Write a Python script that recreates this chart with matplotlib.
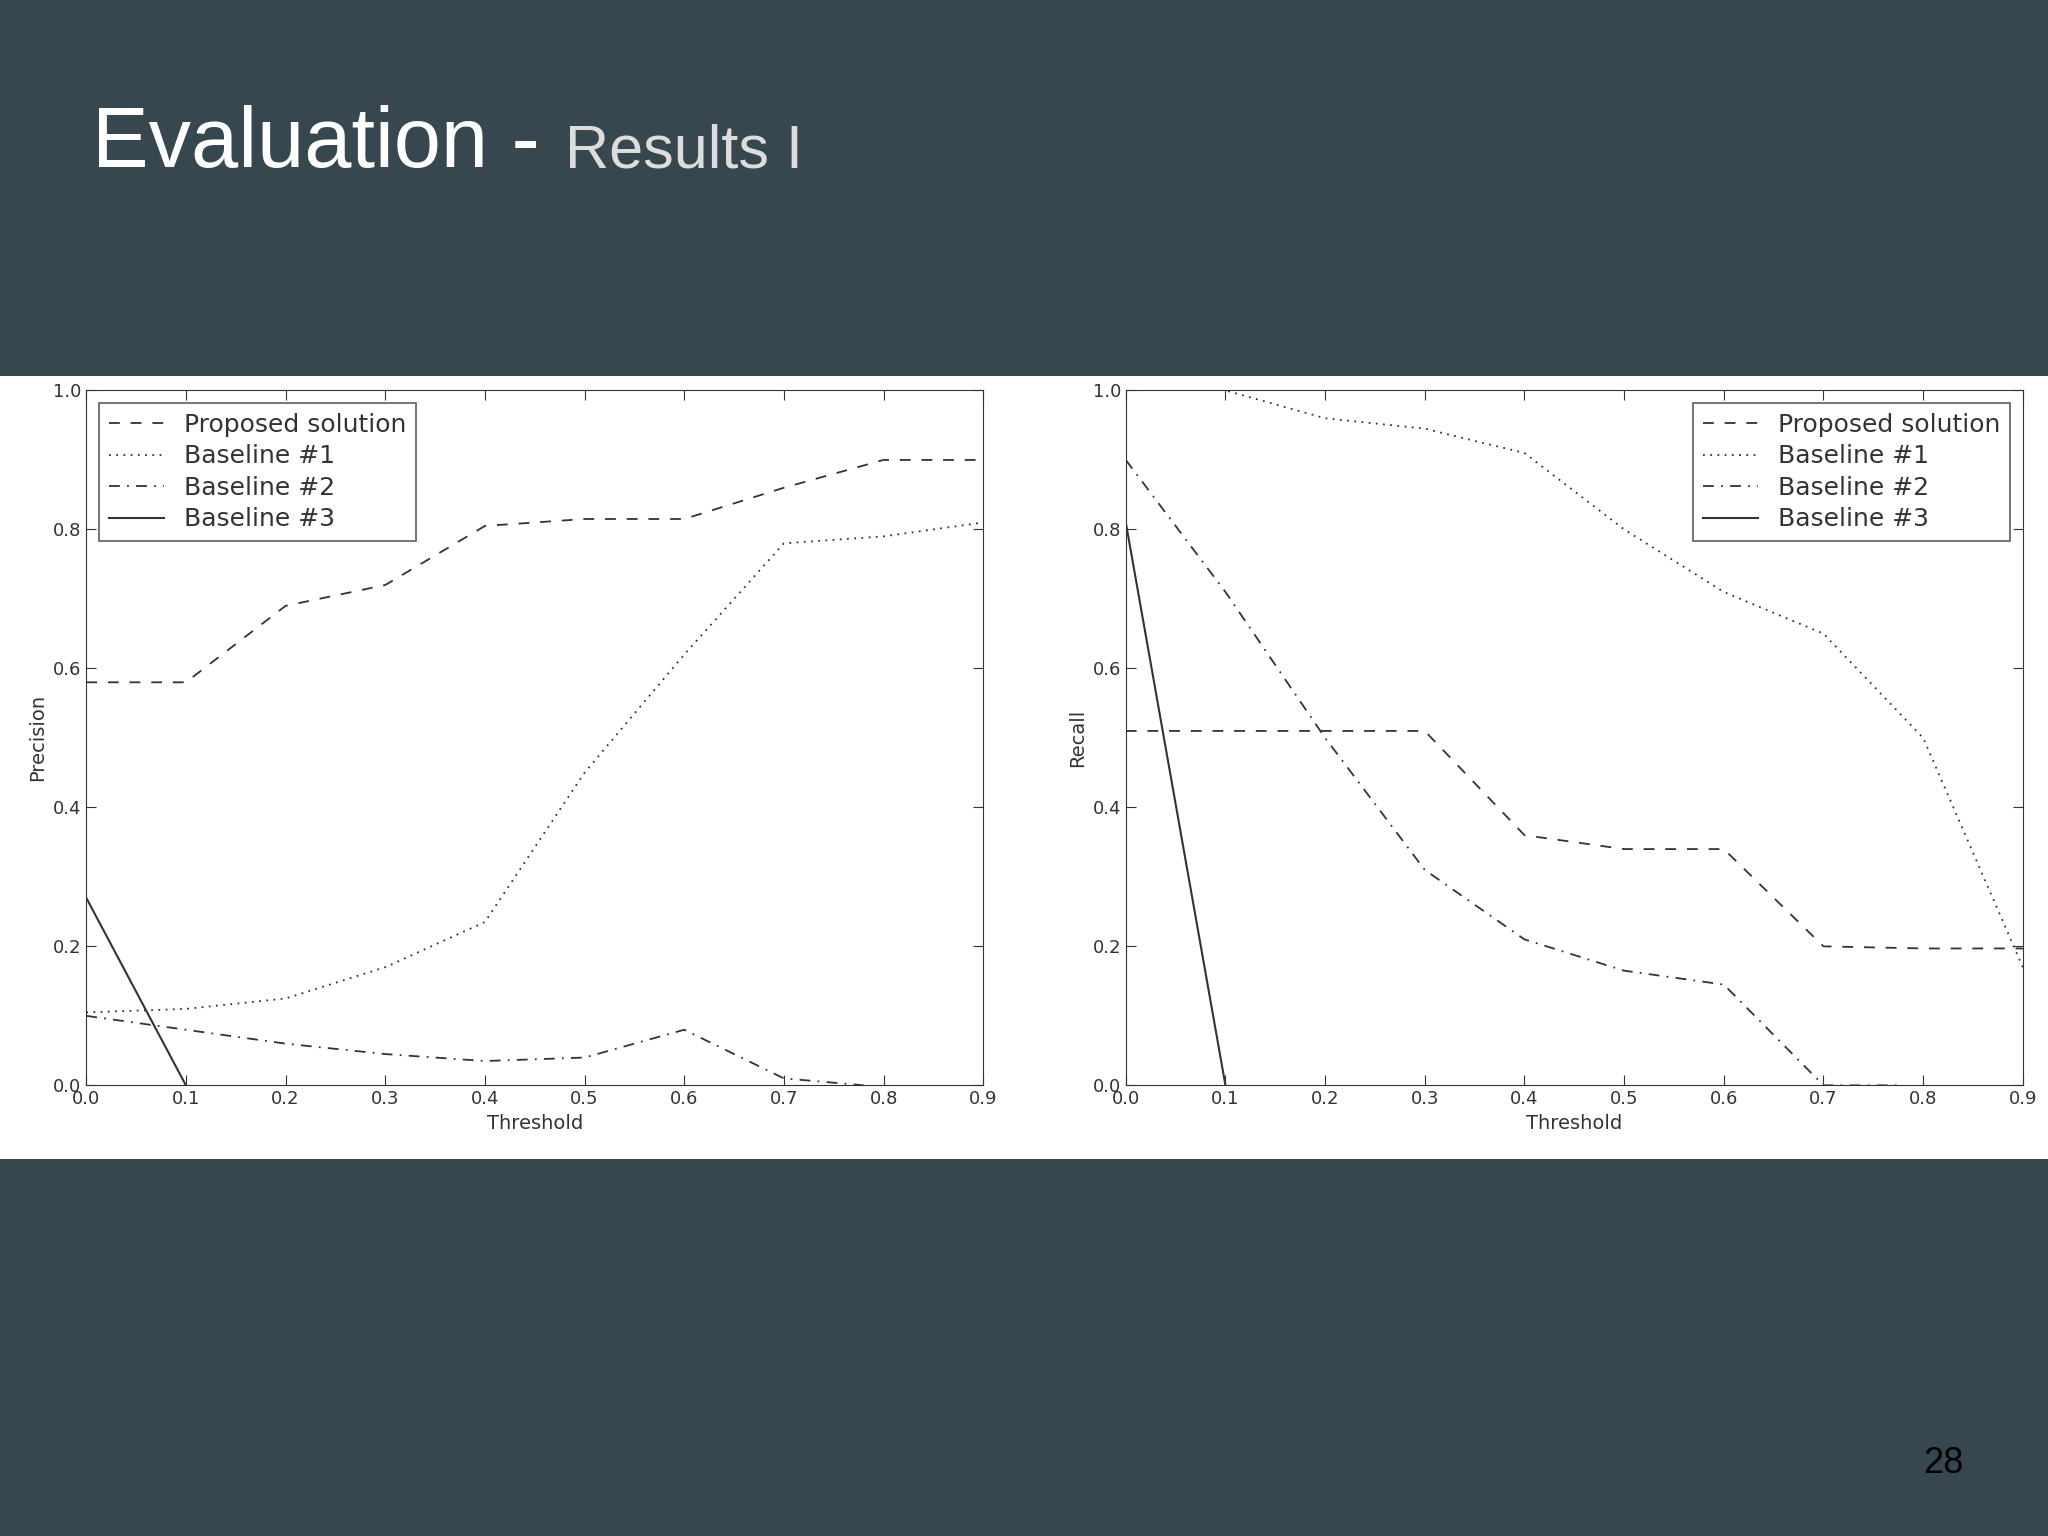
import matplotlib
matplotlib.use("Agg")
import matplotlib.pyplot as plt
from matplotlib.patches import Rectangle

thresholds = [0.0, 0.1, 0.2, 0.3, 0.4, 0.5, 0.6, 0.7, 0.8, 0.9]
prec_proposed = [0.58, 0.58, 0.69, 0.72, 0.805, 0.815, 0.815, 0.86, 0.90, 0.90]
prec_b1 = [0.105, 0.11, 0.125, 0.17, 0.235, 0.45, 0.62, 0.78, 0.79, 0.81]
prec_b2_x = [0.0, 0.1, 0.2, 0.3, 0.4, 0.5, 0.6, 0.7, 0.78]
prec_b2 = [0.10, 0.08, 0.06, 0.045, 0.035, 0.04, 0.08, 0.01, 0.0]
prec_b3_x = [0.0, 0.1]
prec_b3 = [0.27, 0.0]

rec_proposed = [0.51, 0.51, 0.51, 0.51, 0.36, 0.34, 0.34, 0.20, 0.197, 0.197]
rec_b1 = [1.05, 1.0, 0.96, 0.945, 0.91, 0.80, 0.71, 0.65, 0.50, 0.17]
rec_b2_x = [0.0, 0.1, 0.2, 0.3, 0.4, 0.5, 0.6, 0.7, 0.78]
rec_b2 = [0.90, 0.71, 0.50, 0.31, 0.21, 0.165, 0.145, 0.0, 0.0]
rec_b3_x = [0.0, 0.1]
rec_b3 = [0.81, 0.0]

labels = ["Proposed solution", "Baseline #1", "Baseline #2", "Baseline #3"]
xticks = [0.0, 0.1, 0.2, 0.3, 0.4, 0.5, 0.6, 0.7, 0.8, 0.9]
yticks = [0.0, 0.2, 0.4, 0.6, 0.8, 1.0]

BG = "#37474f"
LC = "#333333"
fig = plt.figure(figsize=(20.48, 15.36), dpi=100, facecolor=BG)
fig.patches.append(Rectangle((0, 0.2457), 1, 0.5093, transform=fig.transFigure,
                             facecolor="white", edgecolor="none", zorder=-10))
fig.text(0.045, 0.891, "Evaluation - ", color="white", fontsize=61,
         family="Liberation Sans", va="baseline")
fig.text(0.276, 0.891, "Results I", color="#dddddd", fontsize=44,
         family="Liberation Sans", va="baseline")
fig.text(0.949, 0.041, "28", color="black", fontsize=26,
         family="Liberation Sans", va="baseline", ha="center")

def make(ax, data, ylabel, loc):
    (p, b1, b2x, b2, b3x, b3) = data
    ax.plot(thresholds, p, ls=(0, (6, 6)), color=LC, lw=1.3, label=labels[0])
    ax.plot(thresholds, b1, ls=(0, (1, 3)), color=LC, lw=1.3, label=labels[1])
    ax.plot(b2x, b2, ls=(0, (6, 4, 1, 4)), color=LC, lw=1.3, label=labels[2])
    ax.plot(b3x, b3, ls="-", color=LC, lw=1.5, label=labels[3])
    ax.set_xlim(0, 0.9)
    ax.set_ylim(0, 1.0)
    ax.set_xticks(xticks)
    ax.set_yticks(yticks)
    ax.tick_params(direction="in", top=True, right=True, labelsize=13, length=7, colors=LC)
    ax.set_xlabel("Threshold", fontsize=14, color=LC, labelpad=4)
    ax.set_ylabel(ylabel, fontsize=14, color=LC)
    for s in ax.spines.values():
        s.set_color(LC)
    leg = ax.legend(loc=loc, fontsize=18, frameon=True, fancybox=False,
                    edgecolor=LC, handlelength=2.2, borderpad=0.4, labelspacing=0.3)
    leg.get_frame().set_linewidth(1.2)
    for t in leg.get_texts():
        t.set_color(LC)

ax1 = fig.add_axes([0.0421, 0.2934, 0.438, 0.4524])
make(ax1, (prec_proposed, prec_b1, prec_b2_x, prec_b2, prec_b3_x, prec_b3), "Precision", "upper left")
ax2 = fig.add_axes([0.5497, 0.2934, 0.438, 0.4524])
make(ax2, (rec_proposed, rec_b1, rec_b2_x, rec_b2, rec_b3_x, rec_b3), "Recall", "upper right")

fig.savefig("out.png", dpi=100, facecolor=BG)
